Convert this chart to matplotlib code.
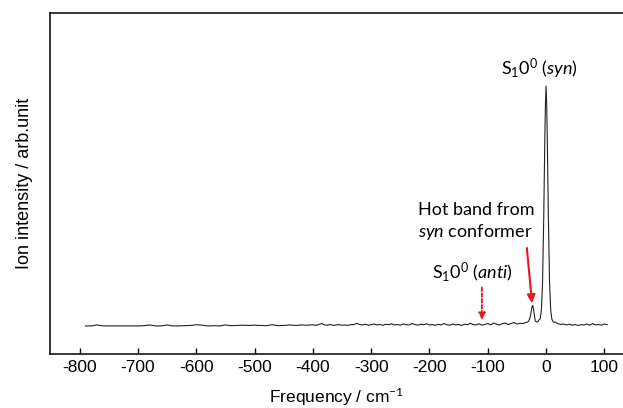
import matplotlib
matplotlib.use("Agg")
import matplotlib.pyplot as plt

# spectrum (intensity scaled so the syn origin = 1)
freq = [-790, -780, -770, -760, -750, -740, -730, -720, -710, -700,
        -690, -680, -670, -660, -650, -640, -630, -620, -610, -600,
        -590, -580, -570, -560, -550, -540, -530, -520, -510, -500,
        -490, -480, -470, -460, -450, -440, -430, -420, -410, -400,
        -395, -390, -385, -380, -375, -370, -365, -360, -355, -350,
        -345, -340, -335, -330, -325, -320, -315, -310, -305, -300,
        -295, -290, -285, -280, -275, -270, -265, -260, -255, -250,
        -245, -240, -235, -230, -225, -220, -215, -210, -205, -200,
        -195, -190, -185, -180, -175, -170, -165, -160, -155, -150,
        -145, -140, -135, -130, -125, -120, -115, -110, -105, -100,
        -95, -90, -85, -80, -75, -70, -65, -60, -55, -50,
        -45, -40, -35, -32, -30, -28, -26, -25, -24, -23,
        -22, -21, -20, -19, -18, -16, -14, -12, -10, -8,
        -6, -4, -2, -1, 0, 1, 2, 4, 6, 8,
        10, 12, 14, 16, 20, 25, 30, 35, 40, 45,
        50, 55, 60, 65, 70, 75, 80, 85, 90, 95,
        100, 105]
intensity = [0.000, 0.000, 0.004, 0.000, 0.000, 0.000, 0.000, 0.000, 0.000, 0.000,
             0.001, 0.004, 0.000, 0.000, 0.004, 0.000, 0.000, 0.001, 0.002, 0.005,
             0.003, 0.000, 0.001, 0.000, 0.004, 0.001, 0.002, 0.003, 0.002, 0.003,
             0.002, 0.001, 0.005, 0.001, 0.002, 0.004, 0.002, 0.004, 0.003, 0.005,
             0.002, 0.006, 0.010, 0.004, 0.003, 0.006, 0.002, 0.004, 0.005, 0.003,
             0.004, 0.002, 0.006, 0.005, 0.011, 0.006, 0.004, 0.007, 0.003, 0.005,
             0.008, 0.004, 0.006, 0.003, 0.007, 0.005, 0.009, 0.004, 0.006, 0.003,
             0.008, 0.005, 0.004, 0.010, 0.006, 0.003, 0.007, 0.005, 0.009, 0.004,
             0.006, 0.002, 0.007, 0.004, 0.010, 0.005, 0.003, 0.008, 0.004, 0.006,
             0.002, 0.007, 0.005, 0.011, 0.006, 0.004, 0.009, 0.003, 0.006, 0.010,
             0.005, 0.012, 0.007, 0.004, 0.009, 0.012, 0.006, 0.010, 0.014, 0.008,
             0.011, 0.010, 0.014, 0.016, 0.020, 0.030, 0.052, 0.068, 0.080, 0.085,
             0.078, 0.060, 0.040, 0.027, 0.020, 0.016, 0.018, 0.025, 0.030, 0.065,
             0.18, 0.45, 0.80, 0.93, 1.00, 0.93, 0.80, 0.45, 0.18, 0.065,
             0.028, 0.018, 0.014, 0.016, 0.010, 0.006, 0.008, 0.004, 0.007, 0.003,
             0.006, 0.002, 0.005, 0.004, 0.008, 0.003, 0.010, 0.004, 0.006, 0.003,
             0.008, 0.005]

xticks = [-800, -700, -600, -500, -400, -300, -200, -100, 0, 100]

plt.rcParams['mathtext.fontset'] = 'custom'
plt.rcParams['mathtext.rm'] = 'Lato'
plt.rcParams['mathtext.it'] = 'Lato:italic'

fig = plt.figure(figsize=(6.23, 4.08), dpi=100)
ax = fig.add_axes([50/623, 1 - 354/408, 573/623, 341/408])

ax.plot(freq, intensity, color='#222222', lw=0.8)

ax.set_xlim(-851, 132)
ax.set_ylim(-0.117, 1.304)
ax.set_xticks(xticks)
ax.set_xticklabels([str(t) for t in xticks], family='Liberation Sans', fontsize=12.5)
ax.set_yticks([])
ax.tick_params(axis='x', direction='in', length=4, width=1, pad=4)
ax.spines['right'].set_visible(False)
for s in ['left', 'bottom', 'top']:
    ax.spines[s].set_linewidth(1.1)

ax.set_xlabel('Frequency / cm$^{-1}$', family='Liberation Sans', fontsize=12.5, labelpad=8)
ax.set_ylabel('Ion intensity / arb.unit', family='Liberation Sans', fontsize=13, labelpad=12)

fnt = dict(family='Lato', fontsize=13, color='black', ha='center', va='baseline')
ax.text(-11, 1.046, r'$\mathrm{S_{1}0^{0}}$ ($\mathit{syn}$)', **fnt)
ax.text(-119, 0.4625, 'Hot band from', **fnt)
ax.text(-121, 0.371, '$\\mathit{syn}$ conformer', **fnt)
ax.text(-126, 0.20, r'$\mathrm{S_{1}0^{0}}$ ($\mathit{anti}$)', **fnt)

ax.annotate('', xy=(-24, 0.095), xytext=(-33, 0.325),
            arrowprops=dict(arrowstyle='-|>', color='#e8191f', lw=1.5,
                            mutation_scale=12, shrinkA=0, shrinkB=0))
ax.annotate('', xy=(-110, 0.025), xytext=(-110, 0.16),
            arrowprops=dict(arrowstyle='-|>', color='#e8191f', lw=1.3, ls=(0, (2, 1.2)),
                            mutation_scale=10, shrinkA=0, shrinkB=0))

fig.savefig('out.png', dpi=100)
